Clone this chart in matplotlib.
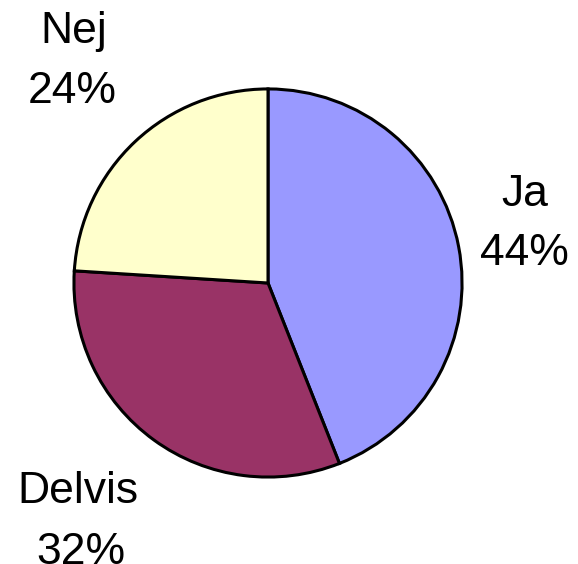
import matplotlib
matplotlib.use("Agg")
import matplotlib.pyplot as plt

labels = ["Ja", "Delvis", "Nej"]
shares = [44, 32, 24]
colors = ["#9999FF", "#993366", "#FFFFCC"]

# text anchors in pixels from top-left: (x centre, baseline) for name and percent line
name_pos = {"Ja": (525, 206), "Delvis": (78, 503), "Nej": (74, 43)}
pct_pos = {"Ja": (524, 265), "Delvis": (81, 564), "Nej": (72, 103)}

W, H = 578, 564
fig = plt.figure(figsize=(W / 100, H / 100), dpi=100)
ax = fig.add_axes([72 / W, (H - 283 - 196) / H, 392 / W, 392 / H])
ax.pie(shares, colors=colors, startangle=90, counterclock=False,
       wedgeprops=dict(edgecolor="black", linewidth=2.2))
ax.set_xlim(-1.01, 1.01)
ax.set_ylim(-1.01, 1.01)
ax.set_aspect("equal")
ax.axis("off")

for lab, val in zip(labels, shares):
    x, y = name_pos[lab]
    fig.text(x / W, 1 - y / H, lab, ha="center", va="baseline",
             fontsize=32, family="Liberation Sans")
    x, y = pct_pos[lab]
    fig.text(x / W, 1 - y / H, f"{val}%", ha="center", va="baseline",
             fontsize=32, family="Liberation Sans")

fig.savefig("out.png", dpi=100)
